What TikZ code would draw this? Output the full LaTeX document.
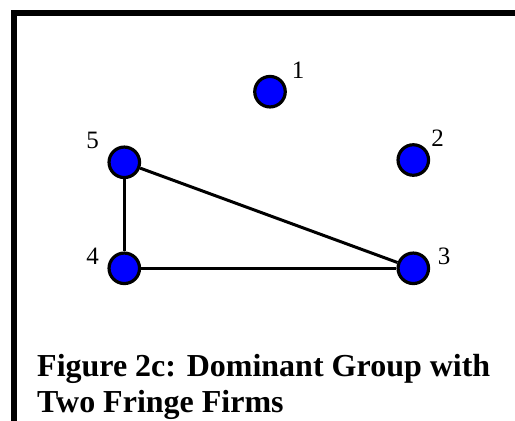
\documentclass[tikz,border=0pt]{standalone}
\usepackage{fontspec}
\setmainfont{Liberation Serif}
\usetikzlibrary{positioning}
\tikzset{
  firm/.style={circle, draw=black, fill=blue, line width=3.2pt,
    minimum size=30.5pt, inner sep=0pt},
  firmnum/.style={font=\fontsize{25}{28}\selectfont, inner sep=0pt},
  link/.style={line width=3pt},
  frame/.style={line width=5.7pt},
  caption/.style={font=\bfseries\fontsize{32}{35.5}\selectfont, align=left, inner sep=0pt}
}

\begin{document}
\begin{tikzpicture}[x=1pt, y=-1pt]
\useasboundingbox (0,0) rectangle (515,421);

% frame : top and left
\coordinate (ftop) at (515,12.8);
\coordinate (fcorner) at (11,12.8);
\coordinate (fleft) at (13.8,421);
\draw[frame] (ftop) -- (fcorner);
\draw[frame] (13.8,10) -- (fleft);

% firms
\node[firm] (f1) at (270,91.7) {};
\node[firm] (f2) at (413.3,160) {};
\node[firm] (f3) at (413.3,268.3) {};
\node[firm] (f4) at (124.3,268.3) {};
\node[firm] (f5) at (124.3,162.3) {};

% numbers
\node[firmnum] (n1) at (298,70) {1};
\node[firmnum] (n2) at (437.5,138.5) {2};
\node[firmnum] (n3) at (444,256.5) {3};
\node[firmnum] (n4) at (92.5,256.5) {4};
\node[firmnum] (n5) at (92.5,140) {5};

% dominant group
\draw[link] (f5) -- (f3);
\draw[link] (f5) -- (f4);
\draw[link] (f4) -- (f3);

% caption (base = last line)
\node[caption, anchor=base west] (cap) at (37,412) {Figure 2c: Dominant Group with\\Two Fringe Firms};

\end{tikzpicture}
\end{document}
